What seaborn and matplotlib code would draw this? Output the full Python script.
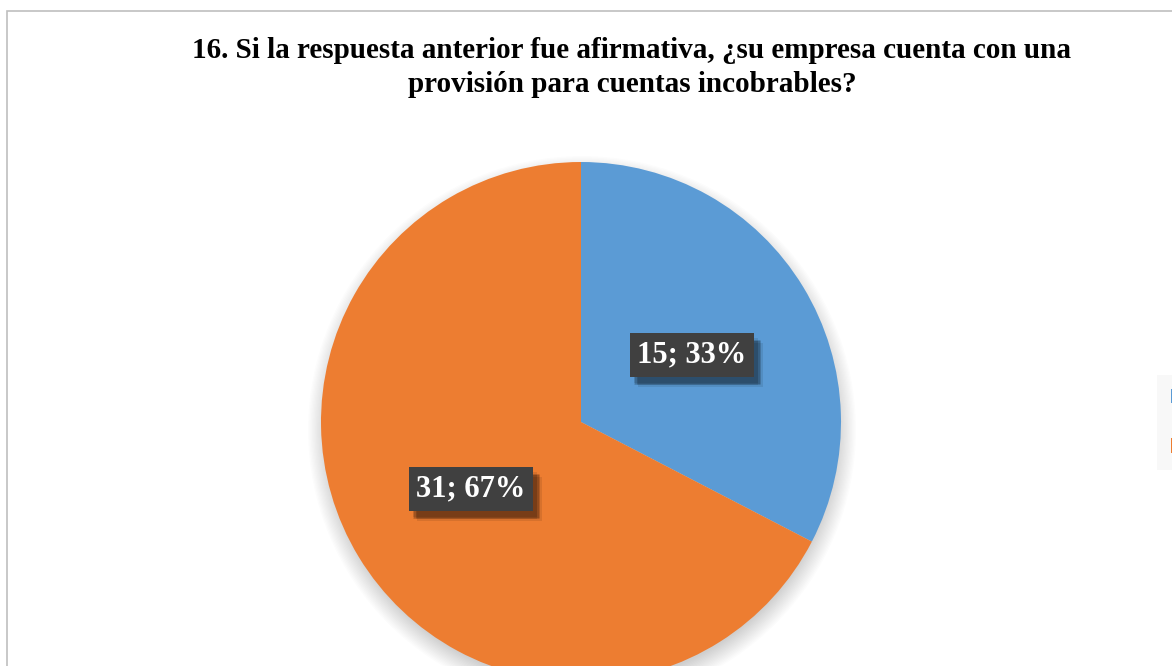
import matplotlib
matplotlib.use("Agg")
import matplotlib.pyplot as plt
import matplotlib.patheffects as pe
from matplotlib.patches import Rectangle, Circle, Patch
import seaborn as sns

# Survey answers and counts
categories = ["Si", "No"]
counts = [15, 31]
title_lines = ["16. Si la respuesta anterior fue afirmativa, ¿su empresa cuenta con una",
               "provisión para cuentas incobrables?"]

sns.set_theme(style="white")
plt.rcParams["font.family"] = ["Liberation Serif", "DejaVu Serif"]

colors = ["#5B9BD5", "#ED7D31"]

W, H = 1172, 666
fig = plt.figure(figsize=(W / 100, H / 100), dpi=100)
fig.patch.set_facecolor("white")
ax = fig.add_axes([0, 0, 1, 1])

cx, cy, r = 581, H - 422, 260

total = sum(counts)
wedges, _ = ax.pie(counts, colors=colors, startangle=90, counterclock=False,
                   center=(cx, cy), radius=r, frame=True,
                   wedgeprops=dict(linewidth=0))
ax.set_xlim(0, W)
ax.set_ylim(0, H)
ax.set_aspect("equal", adjustable="box")
ax.axis("off")
for w in wedges:
    w.set_zorder(3)

# chart area frame
ax.add_patch(Rectangle((6.5, -20), W + 40, H - 10 + 20 - 0.5, fill=False,
                       edgecolor="#BFBFBF", lw=1.2, zorder=0))

# soft shadow under the pie
for i in range(16):
    ax.add_patch(Circle((cx + 1, cy - 8), r + 14 - i * 1.3, color="black",
                        alpha=0.011, lw=0, zorder=1))

# data labels: "value; percent"
label_pos = [(692, H - 355), (471, H - 489)]
blur = [pe.SimplePatchShadow(offset=(dx, dy), shadow_rgbFace="black", alpha=0.09)
        for dx, dy in [(3, -4), (4, -5), (5, -6), (6, -7), (4, -6), (5, -5), (3, -6)]]
for (x, y), v in zip(label_pos, counts):
    pct = round(100 * v / total)
    t = ax.text(x, y, f"{v}; {pct}%", ha="center", va="center",
                fontsize=22, fontweight="bold", color="white", zorder=5,
                bbox=dict(boxstyle="square,pad=0.25", facecolor="#404040",
                          edgecolor="none"))
    t.get_bbox_patch().set_path_effects(blur + [pe.Normal()])

# title
fig.text(632 / W, 1 - 50 / H, title_lines[0], ha="center", va="center",
         fontsize=21, fontweight="bold", color="black")
fig.text(632 / W, 1 - 84 / H, title_lines[1], ha="center", va="center",
         fontsize=21, fontweight="bold", color="black")

# legend at the right edge
handles = [Patch(facecolor=c, edgecolor="none") for c in colors]
leg = fig.legend(handles, categories, loc="upper left",
                 bbox_to_anchor=(1157 / W, 1 - 375 / H), borderaxespad=0,
                 frameon=True, fancybox=False, fontsize=14,
                 handlelength=0.8, handleheight=0.8, labelspacing=1.6,
                 borderpad=0.7, handletextpad=3.0)
leg.get_frame().set_facecolor("#F7F7F7")
leg.get_frame().set_edgecolor("none")

fig.savefig("out.png", dpi=100)
